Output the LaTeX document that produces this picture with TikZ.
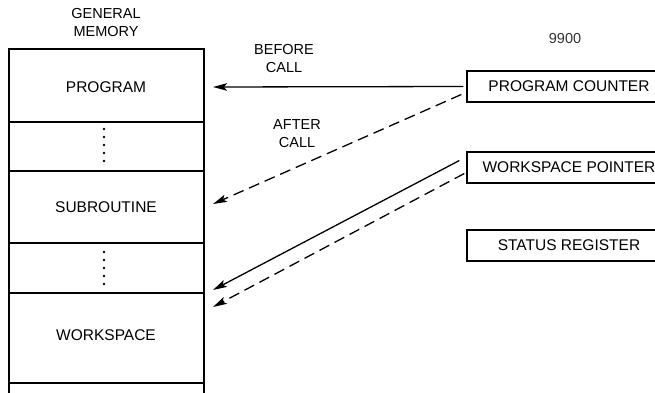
\documentclass[tikz,border=0pt]{standalone}
\usepackage{fontspec}
\setmainfont{Liberation Sans}
\usetikzlibrary{arrows.meta}
\begin{document}
\begin{tikzpicture}[x=1pt,y=-1pt,
  memline/.style={line width=1.5pt},
  lbl/.style={font=\fontsize{14.5}{17}\selectfont, inner sep=0pt, align=center},
  boxtxt/.style={lbl, font=\fontsize{15.5}{17}\selectfont},
  reg/.style={draw, line width=1.3pt, minimum width=204pt, minimum height=31pt,
              font=\fontsize{15.5}{17}\selectfont, inner sep=0pt},
  ptr/.style={line width=1.3pt, -{Stealth[length=14pt,width=7.5pt,inset=3pt]}},
  dptr/.style={ptr, dash pattern=on 11pt off 6pt},
  dot/.style={circle, fill, inner sep=0pt, minimum size=2.6pt}]
\useasboundingbox (0,0) rectangle (655,393);

% general memory column
\draw[memline] (9,393) -- (9,49) -- (204,49) -- (204,393);
\foreach \yy in {122,171,243,293,383}
  \draw[memline] (9,\yy) -- (204,\yy);
\node[lbl] (memtitle) at (106,23) {GENERAL\\[1pt]MEMORY};
\node[boxtxt] (prog) at (106,87) {PROGRAM};
\node[boxtxt] (sub) at (106,207) {SUBROUTINE};
\node[boxtxt] (ws) at (106,335) {WORKSPACE};
\foreach \yy [count=\i] in {129,137,145,153,161}
  \node[dot] (dA\i) at (104,\yy) {};
\foreach \yy [count=\i] in {252,260,268,276,284}
  \node[dot] (dB\i) at (104,\yy) {};

% 9900 registers
\node[lbl, text=black!80] (cpu) at (565,39) {9900};
\node[reg] (pc) at (569,86.5) {PROGRAM COUNTER};
\node[reg] (wp) at (569,167.5) {WORKSPACE POINTER};
\node[reg] (sr) at (569,245.5) {STATUS REGISTER};

% pointer targets on the memory column
\coordinate (progin) at (213,87);
\coordinate (subin) at (213,204);
\coordinate (wsin) at (213,290);
\coordinate (wsin2) at (213,307);

\draw[ptr] ([xshift=-3pt]pc.west) -- (progin);
\draw[dptr] ([xshift=-5pt,yshift=-8pt]pc.west) -- (subin);
\draw[ptr] ([xshift=-7pt,yshift=7pt]wp.west) -- (wsin);
\draw[dptr] ([xshift=-2pt,yshift=-6pt]wp.west) -- (wsin2);

\node[lbl] (before) at (284,59) {BEFORE\\[1pt]CALL};
\node[lbl] (after) at (297,134) {AFTER\\[1pt]CALL};
\end{tikzpicture}
\end{document}
